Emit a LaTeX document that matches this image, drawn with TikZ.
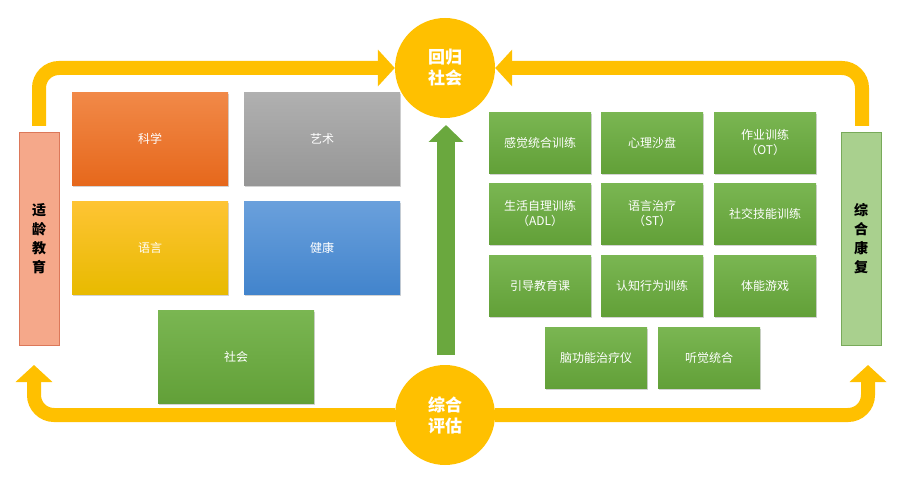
\documentclass[tikz,border=0pt]{standalone}
\usepackage{fontspec}
\setmainfont{Noto Sans CJK SC}
\usetikzlibrary{shadows,arrows.meta}
\definecolor{ylw}{HTML}{FFC000}
\begin{document}
\begin{tikzpicture}[x=1pt,y=-1pt,
 box/.style={draw=none,minimum width=#1,anchor=north west,text=white,font=\fontsize{12}{15}\selectfont,align=center,drop shadow={shadow xshift=1pt,shadow yshift=-1.5pt,opacity=0.35}},
 gbox/.style={box=102pt,minimum height=61pt,top color=green!40!black!20!white!0!, top color={rgb,255:red,122;green,182;blue,82},bottom color={rgb,255:red,98;green,160;blue,56}},
 bar/.style={draw=#1!70!black,minimum width=40pt,minimum height=213pt,anchor=north west,font=\bfseries\fontsize{14}{19}\selectfont,align=center},
 circ/.style={circle,fill=ylw,minimum size=100pt,text=white,font=\bfseries\fontsize{17}{21}\selectfont,align=center},
 yarr/.style={draw=ylw,line width=14pt,-{Triangle[length=17pt,width=36pt]},rounded corners=20pt},
]
\useasboundingbox (0,0) rectangle (900,481);
% bars
\node[bar=orange,fill={rgb,255:red,245;green,168;blue,138},draw={rgb,255:red,220;green,120;blue,90}] (L) at (19,132) {适\\龄\\教\\育};
\node[bar=green,fill={rgb,255:red,169;green,208;blue,142},draw={rgb,255:red,120;green,170;blue,90}] (R) at (841,132) {综\\合\\康\\复};
% circles
\node[circ] (top) at (445,68) {回归\\社会};
\node[circ] (bot) at (445,415) {综合\\评估};
\coordinate (tl) at (39,126); \coordinate (tr) at (862,126);
\coordinate (bl) at (34,365); \coordinate (br) at (868,365);
\draw[yarr] (tl) |- (top.west);
\draw[yarr] (tr) |- (top.east);
\draw[yarr] (bot.west) -| (bl);
\draw[yarr] (bot.east) -| (br);
% green arrow
\coordinate (gs) at (446,355); \coordinate (ge) at (446,125);
\draw[draw={rgb,255:red,106;green,168;blue,62},line width=18pt,-{Triangle[length=17pt,width=34pt]}] (gs) -- (ge);
% left boxes
\node[box=156pt,minimum height=93pt,top color={rgb,255:red,241;green,137;blue,72},bottom color={rgb,255:red,230;green,104;blue,28}] (b1) at (72,92) {科学};
\node[box=156pt,minimum height=93pt,top color={rgb,255:red,176;green,176;blue,176},bottom color={rgb,255:red,150;green,150;blue,150}] (b2) at (244,92) {艺术};
\node[box=156pt,minimum height=93pt,top color={rgb,255:red,254;green,196;blue,52},bottom color={rgb,255:red,232;green,186;blue,0}] (b3) at (72,201) {语言};
\node[box=156pt,minimum height=93pt,top color={rgb,255:red,106;green,160;blue,220},bottom color={rgb,255:red,66;green,132;blue,204}] (b4) at (244,201) {健康};
\node[box=156pt,minimum height=93pt,top color={rgb,255:red,122;green,182;blue,82},bottom color={rgb,255:red,98;green,160;blue,56}] (b5) at (158,310) {社会};
% right boxes
\node[gbox] (r1) at (489,112) {感觉统合训练};
\node[gbox] (r2) at (601,112) {心理沙盘};
\node[gbox] (r3) at (714,112) {作业训练\\（OT）};
\node[gbox] (r4) at (489,183) {生活自理训练\\（ADL）};
\node[gbox] (r5) at (601,183) {语言治疗\\（ST）};
\node[gbox] (r6) at (714,183) {社交技能训练};
\node[gbox] (r7) at (489,255) {引导教育课};
\node[gbox] (r8) at (601,255) {认知行为训练};
\node[gbox] (r9) at (714,255) {体能游戏};
\node[gbox] (r10) at (545,327) {脑功能治疗仪};
\node[gbox] (r11) at (658,327) {听觉统合};
\end{tikzpicture}
\end{document}
